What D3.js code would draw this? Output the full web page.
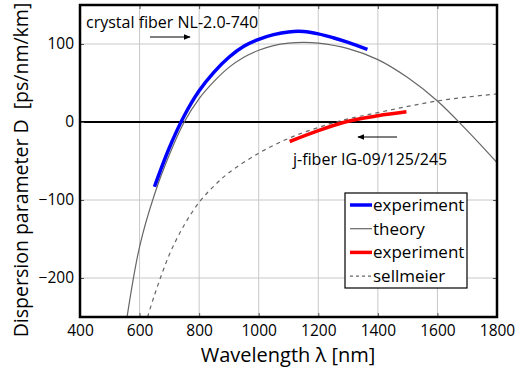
<!DOCTYPE html>
<html>
<head>
<meta charset="utf-8">
<script src="https://cdn.jsdelivr.net/npm/d3@7"></script>
<style>
  body { margin: 0; background: #fff; }
  text { font-family: "Open Sans", "DejaVu Sans", sans-serif; }
</style>
</head>
<body>
<div id="chart"></div>
<script>
// data
const xTicks = [400, 600, 800, 1000, 1200, 1400, 1600, 1800];
const yTicks = [-200, -100, 0, 100];

// crystal fiber, measured
const blueExp = [[650, -83], [700, -33], [750, 8], [800, 40], [850, 64], [900, 83],
  [950, 97], [1000, 106], [1050, 112], [1100, 115.5], [1150, 116], [1200, 113],
  [1250, 108], [1300, 102], [1365, 93]];
// crystal fiber, theory
const theory = [[558, -250], [600, -160], [650, -93], [700, -42], [750, 0], [800, 30],
  [850, 52], [900, 70], [950, 83], [1000, 92], [1050, 98], [1100, 101], [1150, 102],
  [1200, 101], [1300, 94], [1400, 80], [1500, 57], [1600, 27], [1700, -11], [1800, -52]];
// j-fiber, measured
const redExp = [[1104, -25], [1200, -11], [1300, 1], [1400, 8], [1496, 13]];
// j-fiber, sellmeier
const sellmeier = [[627, -250], [650, -222], [700, -170], [750, -132], [800, -103],
  [850, -82], [900, -65], [1000, -40], [1100, -21], [1200, -7], [1300, 4], [1400, 12],
  [1500, 20], [1600, 27], [1700, 32], [1800, 36]];

const legendItems = [
  { label: "experiment", color: "#0000ff", width: 3.5, dash: null },
  { label: "theory", color: "#666", width: 1.2, dash: null },
  { label: "experiment", color: "#ff0000", width: 3.5, dash: null },
  { label: "sellmeier", color: "#666", width: 1.2, dash: "3,3" }
];

const W = 515, H = 367;
const m = { left: 80, right: 18, top: 5, bottom: 50 };

const svg = d3.select("#chart").append("svg")
  .attr("width", W).attr("height", H);

const x = d3.scaleLinear().domain([400, 1800]).range([m.left, W - m.right]);
const y = d3.scaleLinear().domain([-250, 150]).range([H - m.bottom, m.top]);

// grid
svg.append("g").selectAll("line").data(xTicks.slice(1, -1)).join("line")
  .attr("x1", d => x(d)).attr("x2", d => x(d))
  .attr("y1", y(150)).attr("y2", y(-250))
  .attr("stroke", "#c8c8c8").attr("stroke-width", 1);
svg.append("g").selectAll("line").data(yTicks.filter(d => d !== 0)).join("line")
  .attr("x1", x(400)).attr("x2", x(1800))
  .attr("y1", d => y(d)).attr("y2", d => y(d))
  .attr("stroke", "#c8c8c8").attr("stroke-width", 1);

// zero line
svg.append("line")
  .attr("x1", x(400)).attr("x2", x(1800))
  .attr("y1", y(0)).attr("y2", y(0))
  .attr("stroke", "#000").attr("stroke-width", 2);

// clip to plot area
svg.append("clipPath").attr("id", "clip").append("rect")
  .attr("x", x(400)).attr("y", y(150))
  .attr("width", x(1800) - x(400)).attr("height", y(-250) - y(150));

const line = d3.line().x(d => x(d[0])).y(d => y(d[1])).curve(d3.curveCatmullRom.alpha(0.5));
const plot = svg.append("g").attr("clip-path", "url(#clip)");

plot.append("path").datum(sellmeier).attr("d", line)
  .attr("fill", "none").attr("stroke", "#666").attr("stroke-width", 1.2)
  .attr("stroke-dasharray", "4,4");
plot.append("path").datum(theory).attr("d", line)
  .attr("fill", "none").attr("stroke", "#666").attr("stroke-width", 1.2);
plot.append("path").datum(blueExp).attr("d", line)
  .attr("fill", "none").attr("stroke", "#0000ff").attr("stroke-width", 3.5);
plot.append("path").datum(redExp).attr("d", line)
  .attr("fill", "none").attr("stroke", "#ff0000").attr("stroke-width", 3.5);

// axes (inner ticks)
svg.append("g").attr("transform", `translate(0,${y(-250)})`)
  .call(d3.axisBottom(x).tickValues(xTicks).tickSize(-4).tickPadding(8).tickFormat(d3.format("d")));
svg.append("g").attr("transform", `translate(0,${y(150)})`)
  .call(d3.axisTop(x).tickValues(xTicks).tickSize(-4).tickFormat(""));
svg.append("g").attr("transform", `translate(${x(400)},0)`)
  .call(d3.axisLeft(y).tickValues(yTicks).tickSize(-4).tickPadding(6)
    .tickFormat(d => d < 0 ? "\u2212" + Math.abs(d) : d));
svg.append("g").attr("transform", `translate(${x(1800)},0)`)
  .call(d3.axisRight(y).tickValues(yTicks).tickSize(-4).tickFormat(""));

svg.selectAll(".domain").attr("stroke", "none");
svg.selectAll(".tick line").attr("stroke", "#555");
svg.selectAll(".tick text").attr("font-size", 15.5).attr("fill", "#000")
  .style("font-family", "'Open Sans', 'DejaVu Sans', sans-serif");

// frame
svg.append("rect")
  .attr("x", x(400)).attr("y", y(150))
  .attr("width", x(1800) - x(400)).attr("height", y(-250) - y(150))
  .attr("fill", "none").attr("stroke", "#000").attr("stroke-width", 2.5);

// axis titles
svg.append("text").attr("x", 288).attr("y", 362)
  .attr("text-anchor", "middle").attr("font-size", 20)
  .text("Wavelength \u03bb [nm]");
svg.append("text")
  .attr("transform", "translate(28,170) rotate(-90)")
  .attr("text-anchor", "middle").attr("font-size", 19.5)
  .attr("xml:space", "preserve").style("white-space", "pre")
  .text("Dispersion parameter D  [ps/nm/km]");

// annotations
svg.append("defs").append("marker").attr("id", "arr")
  .attr("viewBox", "0 0 10 10").attr("refX", 9).attr("refY", 5)
  .attr("markerWidth", 6).attr("markerHeight", 6).attr("orient", "auto")
  .append("path").attr("d", "M0,1 L10,5 L0,9 Z").attr("fill", "#000");

svg.append("text").attr("x", 86).attr("y", 28).attr("font-size", 16)
  .text("crystal fiber NL-2.0-740");
svg.append("line").attr("x1", 150).attr("x2", 190).attr("y1", 37).attr("y2", 37)
  .attr("stroke", "#000").attr("stroke-width", 1.2).attr("marker-end", "url(#arr)");

svg.append("text").attr("x", 293).attr("y", 165).attr("font-size", 16)
  .text("j-fiber IG-09/125/245");
svg.append("line").attr("x1", 397).attr("x2", 358).attr("y1", 137).attr("y2", 137)
  .attr("stroke", "#000").attr("stroke-width", 1.2).attr("marker-end", "url(#arr)");

// legend
const lg = svg.append("g").attr("transform", "translate(345,193)");
lg.append("rect").attr("width", 122).attr("height", 95)
  .attr("fill", "#fff").attr("stroke", "#000").attr("stroke-width", 1.2);
legendItems.forEach((it, i) => {
  const yy = 12 + i * 23.7;
  lg.append("line").attr("x1", 5).attr("x2", 27).attr("y1", yy).attr("y2", yy)
    .attr("stroke", it.color).attr("stroke-width", it.width)
    .attr("stroke-dasharray", it.dash);
  lg.append("text").attr("x", 28).attr("y", yy + 6).attr("font-size", 17)
    .text(it.label);
});
</script>
</body>
</html>
